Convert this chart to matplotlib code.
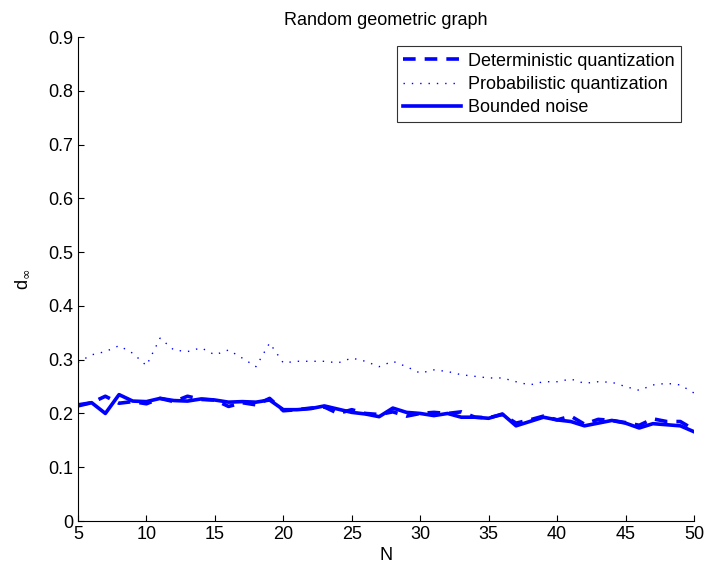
import matplotlib
matplotlib.use("Agg")
import matplotlib.pyplot as plt

N = list(range(5, 51))

# deterministic quantization (dashed)
det_q = [0.214, 0.220, 0.232, 0.219, 0.222, 0.218, 0.228, 0.222, 0.232, 0.226,
         0.225, 0.213, 0.220, 0.216, 0.228, 0.205, 0.207, 0.210, 0.212, 0.200,
         0.207, 0.200, 0.198, 0.203, 0.195, 0.200, 0.202, 0.200, 0.203, 0.193,
         0.192, 0.198, 0.182, 0.188, 0.195, 0.188, 0.195, 0.180, 0.189, 0.187,
         0.183, 0.178, 0.190, 0.185, 0.185, 0.170]

# probabilistic quantization (dotted)
prob_q = [0.295, 0.309, 0.315, 0.326, 0.312, 0.289, 0.340, 0.318, 0.315, 0.322,
          0.309, 0.318, 0.303, 0.287, 0.331, 0.294, 0.297, 0.297, 0.297, 0.294,
          0.303, 0.297, 0.287, 0.297, 0.287, 0.275, 0.281, 0.278, 0.272, 0.269,
          0.266, 0.266, 0.259, 0.253, 0.259, 0.259, 0.264, 0.256, 0.259, 0.258,
          0.250, 0.243, 0.253, 0.256, 0.253, 0.238]

# bounded noise (solid)
bounded = [0.216, 0.220, 0.200, 0.235, 0.223, 0.222, 0.228, 0.224, 0.223, 0.227,
           0.225, 0.221, 0.222, 0.221, 0.225, 0.207, 0.207, 0.209, 0.214, 0.208,
           0.202, 0.199, 0.194, 0.210, 0.202, 0.200, 0.196, 0.200, 0.193, 0.193,
           0.191, 0.199, 0.177, 0.185, 0.193, 0.188, 0.185, 0.177, 0.182, 0.187,
           0.182, 0.173, 0.181, 0.179, 0.177, 0.166]

plt.rcParams["font.family"] = ["Liberation Sans", "DejaVu Sans"]

fig = plt.figure(figsize=(7.05, 5.66), dpi=100)
ax = fig.add_axes([0.1106, 0.0795, 0.8738, 0.8551])

blue = "#0000ff"
ax.plot(N, det_q, color=blue, ls=(0, (3.5, 2.5)), lw=2.6, label="Deterministic quantization")
ax.plot(N, prob_q, color=blue, ls=(0, (1, 5)), lw=1.0, label="Probabilistic quantization")
ax.plot(N, bounded, color=blue, ls="-", lw=2.6, label="Bounded noise")

ax.set_xlim(5, 50)
ax.set_ylim(0, 0.9)
ax.set_xticks(range(5, 51, 5))
ax.set_yticks([i / 10 for i in range(10)])
ax.set_yticklabels(["0"] + [f"{i / 10:.1f}" for i in range(1, 10)])
ax.spines["top"].set_visible(False)
ax.spines["right"].set_visible(False)
ax.tick_params(direction="in", labelsize=13, length=4)
ax.set_xlabel("N", fontsize=13, labelpad=3)
ax.set_ylabel(r"d$_\infty$", fontsize=13, labelpad=12)
ax.set_title("Random geometric graph", fontsize=13, pad=9)

leg = ax.legend(loc="upper right", bbox_to_anchor=(0.979, 0.981), fontsize=13,
                frameon=True, fancybox=False, edgecolor="black", handlelength=3.2,
                borderpad=0.35, labelspacing=0.35, handletextpad=0.4, borderaxespad=0)
leg.get_frame().set_linewidth(0.8)

fig.savefig("out.png", dpi=100)
